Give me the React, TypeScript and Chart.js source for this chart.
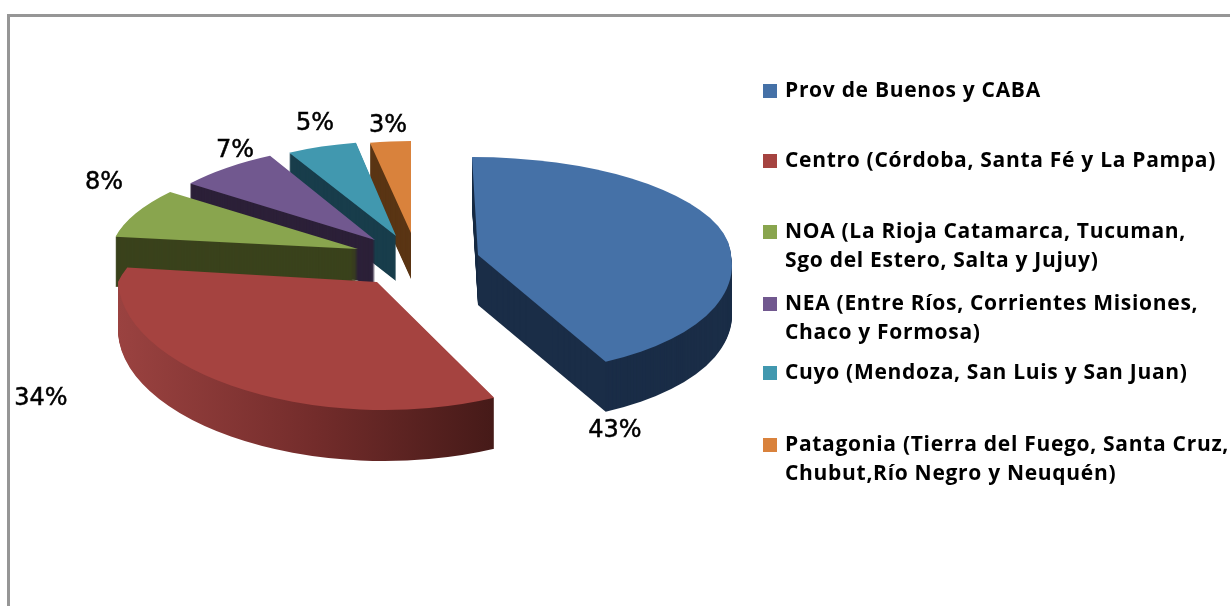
import React, { useEffect, useRef } from "react";
import { Chart, registerables } from "chart.js";

Chart.register(...registerables);

const regions = [
  "Prov de Buenos y CABA",
  "Centro (Córdoba, Santa Fé y La Pampa)",
  "NOA (La Rioja Catamarca, Tucuman,\nSgo del Estero, Salta y Jujuy)",
  "NEA (Entre Ríos, Corrientes Misiones,\nChaco y Formosa)",
  "Cuyo (Mendoza, San Luis y San Juan)",
  "Patagonia (Tierra del Fuego, Santa Cruz,\nChubut,Río Negro y Neuquén)",
];
const shares = [43, 34, 8, 7, 5, 3];

const topColors = ["#4571a7", "#a54340", "#89a54e", "#71588f", "#4198af", "#d9823c"];
const wallColors = ["#1a2d47", "#6b2a28", "#3a421c", "#2c2038", "#183d4b", "#5a3514"];

// Projection of each exploded slice: apex, horizontal radius, vertical radii and skews.
const projection = [
  { x: 478, y: 255, rx: 253, ryUp: 98, ryDown: 118, skUp: 0.061, skDown: 0.187, depth: 50 },
  { x: 377, y: 282, rx: 259, ryUp: 115, ryDown: 128, skUp: -0.5, skDown: 0.06, depth: 51 },
  { x: 358, y: 249, rx: 247, ryUp: 97, ryDown: 97, skUp: -0.21, skDown: 0, depth: 50 },
  { x: 375, y: 240, rx: 236, ryUp: 96, ryDown: 96, skUp: -0.104, skDown: 0, depth: 46 },
  { x: 396, y: 236, rx: 226, ryUp: 95, ryDown: 95, skUp: -0.025, skDown: 0, depth: 45 },
  { x: 411, y: 233, rx: 219, ryUp: 92, ryDown: 92, skUp: 0, skDown: 0, depth: 46 },
];
const paintOrder = [5, 4, 3, 2, 0, 1];
const percentPos = [
  [615, 431], [41, 399], [104, 183], [235, 151], [315, 124], [388, 126],
];
const legendRowY = [91, 161, 232, 304, 373, 445];
const LEGEND_BOX_X = 763;
const LEGEND_TEXT_X = 785;
const LEGEND_LINE = 29;

function drawHalf(ctx: any, el: any, p: any, dy: number, upper: boolean) {
  const R = el.outerRadius;
  const ry = upper ? p.ryUp : p.ryDown;
  const sk = upper ? p.skUp : p.skDown;
  const a = p.rx / R;
  const d = ry / R;
  const c = sk * d;
  const cy = p.y + dy;
  ctx.save();
  ctx.beginPath();
  if (upper) ctx.rect(0, 0, 1230, cy);
  else ctx.rect(0, cy, 1230, 606 - cy);
  ctx.clip();
  ctx.transform(a, 0, c, d, p.x - a * el.x - c * el.y, cy - d * el.y);
  el.draw(ctx);
  ctx.restore();
}

const pie3d = {
  id: "pie3d",
  beforeDatasetsDraw(chart: any) {
    const ctx = chart.ctx;
    const meta = chart.getDatasetMeta(0);
    for (const i of paintOrder) {
      const el = meta.data[i];
      const p = projection[i];
      const saved = el.options;
      let wall: any = wallColors[i];
      if (i === 1) {
        // lit side of the large front slice, fading from left to right
        const a = p.rx / el.outerRadius;
        const g = ctx.createLinearGradient(
          el.x + (118 - p.x) / a, 0, el.x + (497 - p.x) / a, 0
        );
        g.addColorStop(0, "#9a4240");
        g.addColorStop(0.5, "#732c2b");
        g.addColorStop(1, "#431917");
        wall = g;
      }
      el.options = { ...saved, backgroundColor: wall, borderWidth: 0 };
      for (let dy = p.depth; dy >= 1; dy--) {
        drawHalf(ctx, el, p, dy, true);
        drawHalf(ctx, el, p, dy, false);
      }
      el.options = { ...saved, backgroundColor: topColors[i], borderWidth: 0 };
      drawHalf(ctx, el, p, 0, true);
      drawHalf(ctx, el, p, 0, false);
      el.options = saved;
    }
    return false;
  },
  afterDraw(chart: any) {
    const ctx = chart.ctx;
    ctx.save();
    // frame
    ctx.fillStyle = "#969696";
    ctx.fillRect(7, 14, 1223, 3);
    ctx.fillRect(7, 14, 3, 592);
    // percent labels
    ctx.fillStyle = "#000";
    ctx.strokeStyle = "#000";
    ctx.lineWidth = 0.5;
    ctx.font = '24px "DejaVu Sans"';
    ctx.textAlign = "center";
    ctx.textBaseline = "middle";
    shares.forEach((v, i) => {
      ctx.fillText(v + "%", percentPos[i][0], percentPos[i][1]);
      ctx.strokeText(v + "%", percentPos[i][0], percentPos[i][1]);
    });
    // legend
    ctx.textAlign = "left";
    ctx.font = 'bold 21px "Open Sans"';
    (ctx as any).letterSpacing = "0.7px";
    regions.forEach((label, i) => {
      const y = legendRowY[i];
      ctx.fillStyle = topColors[i];
      ctx.fillRect(LEGEND_BOX_X, y - 7, 14, 14);
      ctx.fillStyle = "#000";
      label.split("\n").forEach((line, k) => {
        ctx.fillText(line, LEGEND_TEXT_X, y + k * LEGEND_LINE);
      });
    });
    ctx.restore();
  },
};

export default function App() {
  const ref = useRef<HTMLCanvasElement>(null);
  useEffect(() => {
    const chart = new Chart(ref.current as any, {
      type: "pie",
      data: {
        labels: regions,
        datasets: [{ data: shares, backgroundColor: topColors, borderWidth: 0 }],
      },
      options: {
        animation: false,
        responsive: false,
        plugins: { legend: { display: false }, tooltip: { enabled: false } },
      },
      plugins: [pie3d],
    } as any);
    return () => chart.destroy();
  }, []);
  return (
    <div style={{ position: "absolute", left: 0, top: 0, width: 1230, height: 606, background: "#fff" }}>
      <canvas ref={ref} width={1230} height={606} style={{ display: "block" }} />
    </div>
  );
}
